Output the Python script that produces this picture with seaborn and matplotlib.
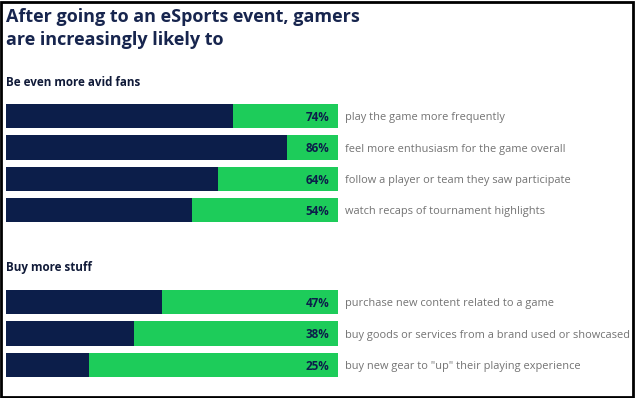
import matplotlib
matplotlib.use("Agg")
import matplotlib.pyplot as plt
import seaborn as sns
import pandas as pd
from matplotlib.patches import Rectangle

# data
fan_labels = ["play the game more frequently",
              "feel more enthusiasm for the game overall",
              "follow a player or team they saw participate",
              "watch recaps of tournament highlights"]
fan_pct = [74, 86, 64, 54]
fan_fill = [68.5, 84.5, 64, 56]   # navy bar length as drawn in the picture

buy_labels = ["purchase new content related to a game",
              "buy goods or services from a brand used or showcased",
              "buy new gear to \"up\" their playing experience"]
buy_pct = [47, 38, 25]
buy_fill = [47, 38.5, 25]

NAVY = "#0c1e4a"
GREEN = "#1dcc5a"
GREY = "#737373"

sns.set_theme(style="white")
plt.rcParams["font.family"] = ["Open Sans", "DejaVu Sans"]

W, H = 635, 398
fig = plt.figure(figsize=(W / 100, H / 100), dpi=100)


def px_axes(left, top, right, bottom):
    return fig.add_axes([left / W, 1 - bottom / H, (right - left) / W, (bottom - top) / H])


def draw_group(ax, labels, pct, fill):
    df = pd.DataFrame({"item": labels, "pct": pct, "fill": fill, "full": [100] * len(labels)})
    sns.barplot(data=df, x="full", y="item", color=GREEN, width=0.77,
                saturation=1, linewidth=0, ax=ax)
    sns.barplot(data=df, x="fill", y="item", color=NAVY, width=0.77,
                saturation=1, linewidth=0, ax=ax)
    ax.set_xlim(0, 100)
    ax.set_ylim(len(labels) - 0.5, -0.5)
    for i, (lab, p) in enumerate(zip(labels, pct)):
        ax.text(97.3, i + 0.04, f"{p}%", ha="right", va="center", fontsize=8.4,
                fontweight="bold", color=NAVY)
        ax.text(102.1, i + 0.05, lab, ha="left", va="center", fontsize=7.95,
                color=GREY, clip_on=False)
    ax.axis("off")


ax1 = px_axes(6, 100.3, 338, 226)
draw_group(ax1, fan_labels, fan_pct, fan_fill)

ax2 = px_axes(6, 286.3, 338, 381)
draw_group(ax2, buy_labels, buy_pct, buy_fill)

fig.text(6 / W, 1 - 22 / H, "After going to an eSports event, gamers",
         fontsize=13, fontweight="bold", color="#17254e", va="baseline")
fig.text(6 / W, 1 - 45 / H, "are increasingly likely to",
         fontsize=13, fontweight="bold", color="#17254e", va="baseline")
fig.text(6 / W, 1 - 86 / H, "Be even more avid fans",
         fontsize=8.4, fontweight="bold", color="#101a38", va="baseline")
fig.text(6 / W, 1 - 271 / H, "Buy more stuff",
         fontsize=8.4, fontweight="bold", color="#101a38", va="baseline")

fig.patches.append(Rectangle((0.5 / W, 1.5 / H), (W - 2.5) / W, (H - 3) / H,
                             transform=fig.transFigure, fill=False,
                             edgecolor="black", linewidth=2))

fig.savefig("out.png", dpi=100)
